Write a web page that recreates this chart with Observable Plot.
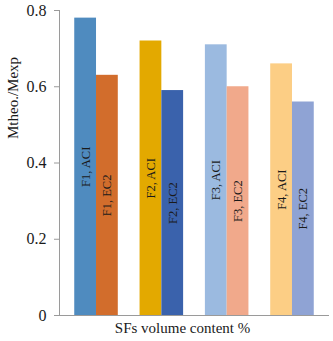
<!DOCTYPE html>
<html>
<head>
<meta charset="utf-8">
<script src="https://cdn.jsdelivr.net/npm/d3@7"></script>
<script src="https://cdn.jsdelivr.net/npm/@observablehq/plot@0.6"></script>
<style>
  html, body { margin: 0; padding: 0; background: #fff; }
  #chart svg { display: block; }
  #chart svg, #chart svg text { font-family: "Liberation Serif", "Times New Roman", Times, serif !important; }
</style>
</head>
<body>
<div id="chart"></div>
<script>
const groups = ["F1", "F2", "F3", "F4"];
const series = ["ACI", "EC2"];
const aciValues = [0.78, 0.72, 0.71, 0.66];
const ec2Values = [0.63, 0.59, 0.60, 0.56];
const aciColors = ["#4F8BBF", "#E3A900", "#9BBAE0", "#FCCE85"];
const ec2Colors = ["#D26D2C", "#3A62AC", "#F1A98B", "#8FA3D4"];
const yTicks = [0, 0.2, 0.4, 0.6, 0.8];
const xLabel = "SFs volume content %";
const yLabel = "Mtheo./Mexp";

const data = groups.flatMap((g, i) => series.map((s, j) => ({
  group: g,
  series: s,
  label: `${g}, ${s}`,
  value: j === 0 ? aciValues[i] : ec2Values[i],
  slot: i * 3 + j
})));
const labels = data.map(d => d.label);
const colorRange = groups.flatMap((g, i) => [aciColors[i], ec2Colors[i]]);

const chart = Plot.plot({
  width: 333,
  height: 341,
  marginLeft: 59,
  marginRight: 4,
  marginTop: 10,
  marginBottom: 26,
  style: { fontFamily: "'Liberation Serif', 'Times New Roman', serif", background: "#fff" },
  x: { domain: [-0.7, 11.7], axis: null },
  y: { domain: [0, 0.8], axis: null },
  color: { domain: labels, range: colorRange },
  marks: [
    Plot.rectY(data, { x1: "slot", x2: d => d.slot + 1, y: "value", fill: "label" }),
    Plot.text(data, {
      x: d => d.slot + 0.5, y: d => d.value / 2, text: "label",
      rotate: -90, fontSize: 12.5, fill: "#1a1a1a"
    }),
    Plot.ruleY([0], { stroke: "#9a9a9a" }),
    Plot.ruleX([-0.7], { stroke: "#9a9a9a" }),
    Plot.axisY({
      ticks: yTicks, tickSize: 5, tickPadding: 8,
      tickFormat: d => d === 0 ? "0" : d.toFixed(1),
      label: null, fontSize: 16, stroke: "#9a9a9a", fill: "#1a1a1a"
    }),
    Plot.text([yLabel], {
      frameAnchor: "left", rotate: -90, dx: -46, dy: -24,
      fontSize: 15, fill: "#1a1a1a"
    }),
    Plot.text([xLabel], {
      frameAnchor: "bottom", dy: 17, dx: -12,
      fontSize: 15, fill: "#1a1a1a"
    })
  ]
});
document.getElementById("chart").appendChild(chart);
</script>
</body>
</html>
